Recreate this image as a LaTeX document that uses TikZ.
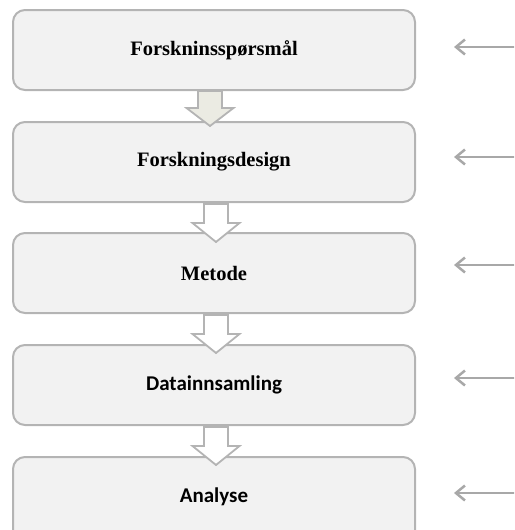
\documentclass[tikz,border=0pt]{standalone}
\usepackage{fontspec}
\usetikzlibrary{arrows.meta,calc}
\newfontfamily\timesbf{Liberation Serif}[BoldFont={Liberation Serif Bold}]
\newfontfamily\calibrifont{Carlito}[BoldFont={Carlito Bold}]
\definecolor{boxfill}{HTML}{F2F2F2}
\definecolor{boxline}{HTML}{B4B4B4}
\definecolor{sideline}{HTML}{A8A8A8}
\definecolor{beige}{HTML}{EBEBE3}
\tikzset{
  x=1pt, y=1pt,
  stagebox/.style={draw=boxline, line width=2pt, fill=boxfill,
    rounded corners=12pt, minimum width=402pt, minimum height=80pt,
    inner sep=0pt},
  serifbold/.style={font=\timesbf\bfseries\fontsize{20.5}{24}\selectfont},
  sansbold/.style={font=\calibrifont\bfseries\fontsize{21}{25}\selectfont},
  sidearrow/.style={draw=sideline, line width=2.5pt,
    -{Straight Barb[length=9pt,width=15pt,line width=2.5pt]}},
  blockarrow/.style={draw=boxline, line width=1.8pt, fill=white},
  downarr/.pic={
    \path[pic actions] (-12,0) -- (12,0) -- (12,-\shaftlen) -- (23.5,-\shaftlen)
      -- (0,-\arrlen) -- (-23.5,-\shaftlen) -- (-12,-\shaftlen) -- cycle;
  }
}
\newcommand\shaftlen{17}
\newcommand\arrlen{37}
\begin{document}
\begin{tikzpicture}
\useasboundingbox (0,0) rectangle (514,-530);
\clip (0,0) rectangle (514,-530);

% process stages
\node[stagebox, serifbold] (b1) at (214,-50)  {Forskninsspørsmål};
\node[stagebox, serifbold] (b2) at (214,-162) {Forskningsdesign};
\node[stagebox, serifbold] (b3) at (214,-273) {Metode};
\node[stagebox, sansbold]  (b4) at (214,-385) {Datainnsamling};
% the last stage runs past the lower edge
\node[stagebox, minimum height=100pt] (b5) at (214,-507) {};
\node[sansbold] (l5) at (214,-497) {Analyse};

% block arrows between the stages
\renewcommand\shaftlen{17}\renewcommand\arrlen{35}
\pic[blockarrow, fill=beige] at ($(b1.south)+(-4,0)$) {downarr};
\renewcommand\shaftlen{19}\renewcommand\arrlen{38}
\pic[blockarrow] at ($(b2.south)+(2,-1)$) {downarr};
\pic[blockarrow] at ($(b3.south)+(2,-1)$) {downarr};
\pic[blockarrow] at ($(b4.south)+(2,-1)$) {downarr};

% incoming arrows on the right
\foreach \i/\y in {1/-47, 2/-157, 3/-265, 4/-378, 5/-493} {
  \coordinate (r\i) at (516,\y);
  \coordinate (t\i) at (454,\y);
  \draw[sidearrow] (r\i) -- (t\i);
}
\end{tikzpicture}
\end{document}
